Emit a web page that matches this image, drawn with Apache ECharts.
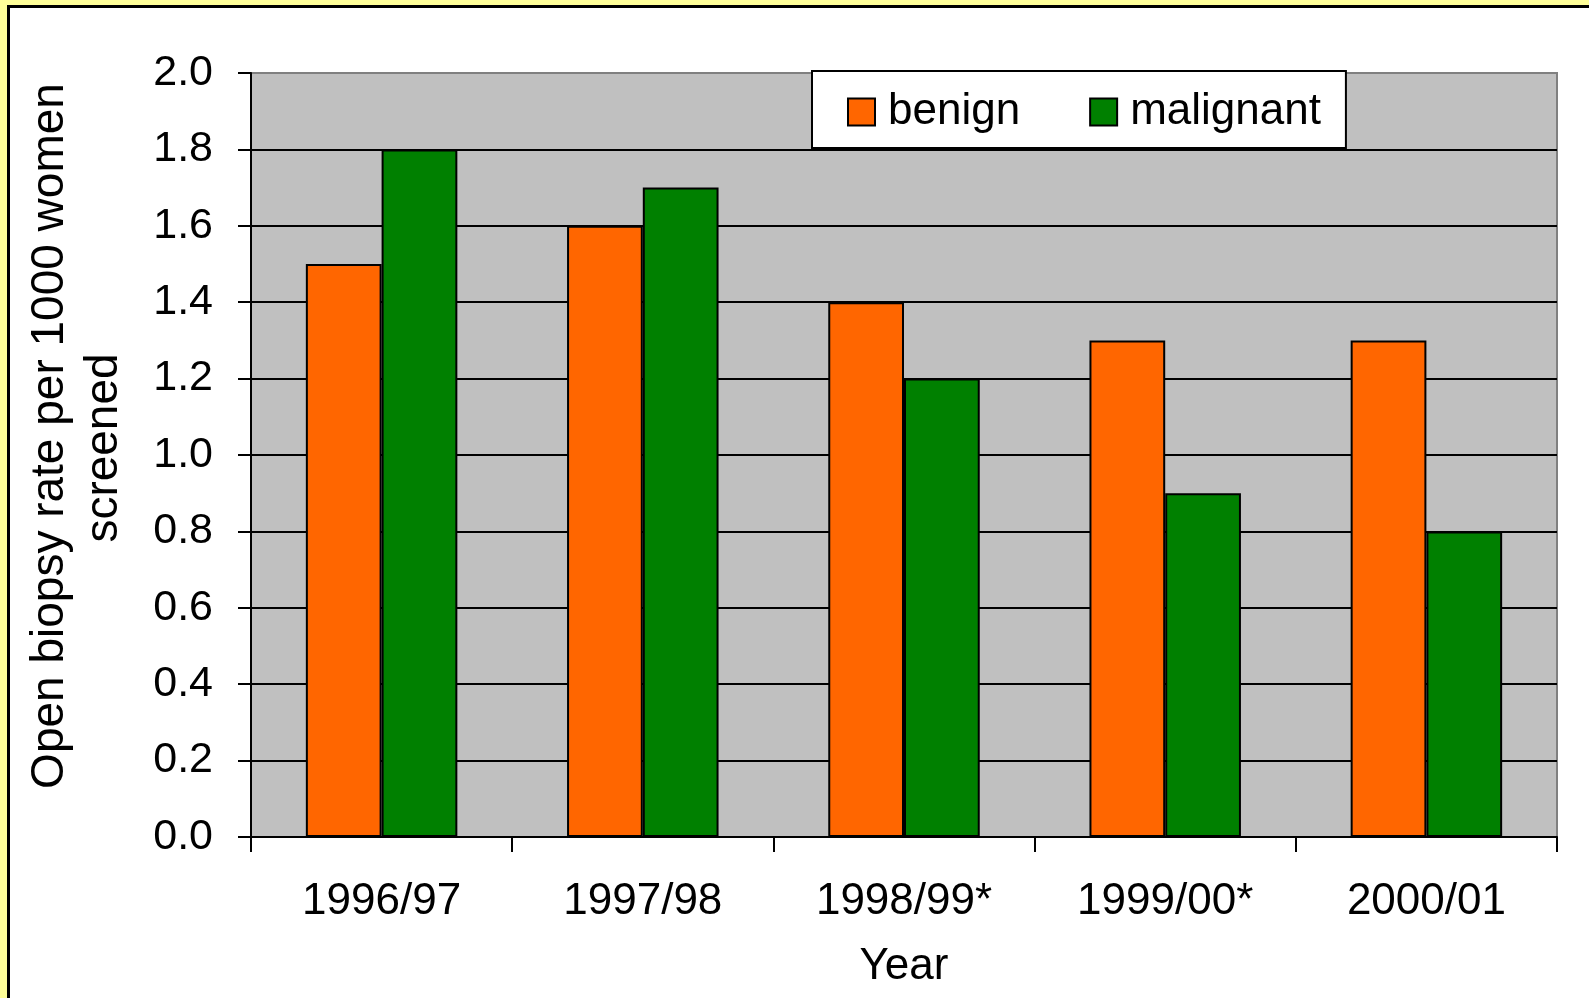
<!DOCTYPE html>
<html>
<head>
<meta charset="utf-8">
<script src="https://cdn.jsdelivr.net/npm/echarts@6/dist/echarts.min.js"></script>
<style>
  html, body { margin: 0; padding: 0; background: #FFFF99; }
  #frame {
    position: absolute; left: 7px; top: 5px; width: 1582px; height: 993px;
    border-left: 3px solid #000; border-top: 3px solid #000; background: #fff;
    box-sizing: border-box;
  }
  #chart { position: absolute; left: 0; top: 0; width: 1589px; height: 998px; }
</style>
</head>
<body>
<div id="frame"></div>
<div id="chart"></div>
<script>
var years = ["1996/97", "1997/98", "1998/99*", "1999/00*", "2000/01"];
var benign = [1.5, 1.6, 1.4, 1.3, 1.3];
var malignant = [1.8, 1.7, 1.2, 0.9, 0.8];

var font = 'Arial, "Liberation Sans", sans-serif';

var chartDom = document.getElementById("chart");
var myChart = echarts.init(chartDom);

var option = {
  animation: false,
  textStyle: { fontFamily: font, color: "#000" },
  grid: {
    left: 251,
    top: 73,
    right: 32,
    bottom: 161,
    show: true,
    backgroundColor: "#C0C0C0",
    borderColor: "#808080",
    borderWidth: 2,
  },
  legend: {
    left: 812,
    top: 71,
    icon: "rect",
    itemWidth: 27,
    itemHeight: 27,
    itemGap: 69,
    padding: [19, 25, 14, 35],
    backgroundColor: "#fff",
    borderColor: "#000",
    borderWidth: 2,
    borderRadius: 0,
    itemStyle: { borderColor: "#000", borderWidth: 2 },
    textStyle: { fontSize: 44, fontFamily: font, color: "#000", padding: [0, 0, 0, 8] },
    data: ["benign", "malignant"],
  },
  xAxis: {
    type: "category",
    data: years,
    name: "Year",
    nameLocation: "middle",
    nameGap: 108,
    nameTextStyle: { fontSize: 44, fontFamily: font, color: "#000" },
    axisLine: { show: true, lineStyle: { color: "#000", width: 2 } },
    axisTick: { show: true, length: 15, lineStyle: { color: "#000", width: 2 } },
    axisLabel: { fontSize: 44, margin: 43, color: "#000", fontFamily: font },
  },
  yAxis: {
    type: "value",
    min: 0,
    max: 2,
    interval: 0.2,
    name: "{a|Open biopsy rate per 1000 women}\n{b|screened}",
    nameLocation: "middle",
    nameRotate: 90,
    nameGap: 120,
    nameTextStyle: {
      fontSize: 46,
      lineHeight: 54,
      fontFamily: font,
      color: "#000",
      padding: [0, 0, 0, 14],
      rich: {
        a: { fontSize: 46, lineHeight: 54, fontFamily: font, color: "#000", padding: [0, 0, 0, 24] },
        b: { fontSize: 46, lineHeight: 54, fontFamily: font, color: "#000" },
      },
    },
    axisLine: { show: true, lineStyle: { color: "#000", width: 2 } },
    axisTick: { show: true, length: 13, lineStyle: { color: "#000", width: 2 } },
    axisLabel: {
      fontSize: 43,
      margin: 38,
      color: "#000",
      fontFamily: font,
      formatter: function (v) { return v.toFixed(1); },
    },
    splitLine: { show: true, showMaxLine: false, lineStyle: { color: "#000", width: 2 } },
  },
  series: [
    {
      name: "benign",
      type: "bar",
      barGap: "0%",
      barCategoryGap: "42%",
      itemStyle: { color: "#FF6600", borderColor: "#000", borderWidth: 2 },
      data: benign,
    },
    {
      name: "malignant",
      type: "bar",
      itemStyle: { color: "#008000", borderColor: "#000", borderWidth: 2 },
      data: malignant,
    },
  ],
};

myChart.setOption(option);
</script>
</body>
</html>
